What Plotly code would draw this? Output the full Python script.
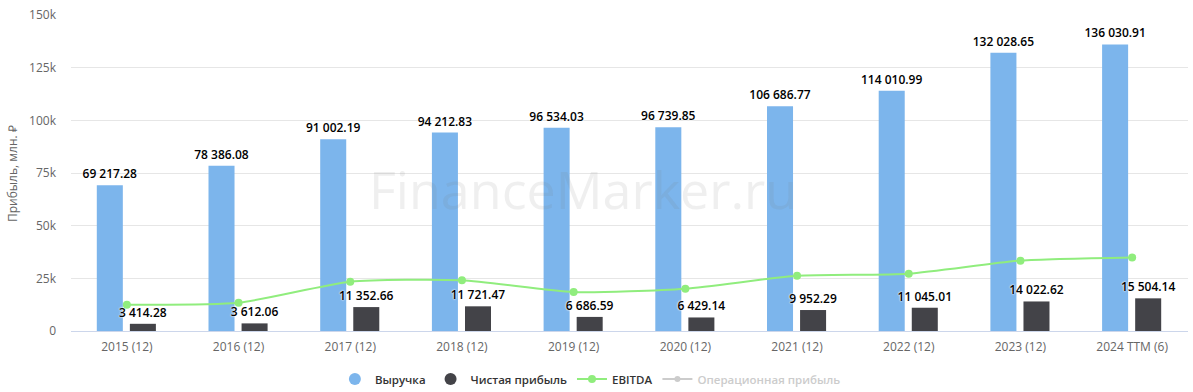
import plotly.graph_objects as go

categories = ["2015 (12)", "2016 (12)", "2017 (12)", "2018 (12)", "2019 (12)",
              "2020 (12)", "2021 (12)", "2022 (12)", "2023 (12)", "2024 TTM (6)"]
revenue = [69217.28, 78386.08, 91002.19, 94212.83, 96534.03,
           96739.85, 106686.77, 114010.99, 132028.65, 136030.91]
net_profit = [3414.28, 3612.06, 11352.66, 11721.47, 6686.59,
              6429.14, 9952.29, 11045.01, 14022.62, 15504.14]
ebitda = [12500, 13400, 23400, 24100, 18500, 20100, 26200, 27200, 33400, 34900]
y_tickvals = [0, 25000, 50000, 75000, 100000, 125000, 150000]
y_ticktext = ["0", "25k", "50k", "75k", "100k", "125k", "150k"]

FONT = "Open Sans"
BLUE = "#7cb5ec"
DARK = "#434348"
GREEN = "#90ed7d"
HIDDEN = "#cccccc"

label_font = dict(family=FONT, size=12, color="#000000", weight=600,
                  shadow="0px 0px 2px #ffffff, 0px 0px 2px #ffffff")

fig = go.Figure()

fig.add_trace(go.Bar(
    x=categories, y=revenue, name="Выручка",
    marker=dict(color=BLUE, line=dict(width=0)), width=0.233, offset=-0.269,
    texttemplate="%{y:,.2f}", textposition="outside", textfont=label_font,
    constraintext="none", cliponaxis=False, showlegend=False, hoverinfo="skip"))

fig.add_trace(go.Bar(
    x=categories, y=net_profit, name="Чистая прибыль",
    marker=dict(color=DARK, line=dict(width=0)), width=0.233, offset=0.027,
    texttemplate="%{y:,.2f}", textposition="outside", textfont=label_font,
    constraintext="none", cliponaxis=False, showlegend=False, hoverinfo="skip"))

fig.add_trace(go.Scatter(
    x=categories, y=ebitda, name="EBITDA",
    mode="lines+markers", line=dict(color=GREEN, width=2, shape="spline", smoothing=0.6),
    marker=dict(color=GREEN, size=8), legendrank=3, hoverinfo="skip", cliponaxis=False))

# legend entries
fig.add_trace(go.Scatter(
    x=[None], y=[None], name="Выручка", mode="markers",
    marker=dict(symbol="circle", size=12, color=BLUE), legendrank=1))
fig.add_trace(go.Scatter(
    x=[None], y=[None], name="Чистая прибыль", mode="markers",
    marker=dict(symbol="circle", size=12, color=DARK), legendrank=2))
fig.add_trace(go.Scatter(
    x=[None], y=[None],
    name="<span style='color:#cccccc'>Операционная прибыль</span>",
    mode="lines+markers", line=dict(color=HIDDEN, width=2),
    marker=dict(color=HIDDEN, size=6), legendrank=4))

fig.update_layout(
    width=1193, height=392,
    margin=dict(l=71, r=5, t=15, b=61, autoexpand=False),
    paper_bgcolor="#ffffff", plot_bgcolor="#ffffff",
    separators=". ",
    barmode="overlay",
    showlegend=True,
    hovermode=False,
    font=dict(family=FONT, size=12, color="#666666"),
    xaxis=dict(type="category",
               categoryorder="array", categoryarray=categories,
               range=[-0.5, len(categories) - 0.5],
               showgrid=False, showline=True, linecolor="#ccd6eb", linewidth=1,
               ticks="", tickfont=dict(family=FONT, size=12, color="#666666"),
               ticklabelstandoff=5,
               zeroline=False, automargin=False, fixedrange=True),
    yaxis=dict(range=[0, 150000],
               tickvals=y_tickvals, ticktext=y_ticktext,
               showgrid=True, gridcolor="#e6e6e6", gridwidth=1,
               zeroline=False, showline=False, ticks="",
               tickfont=dict(family=FONT, size=12, color="#666666"),
               ticklabelstandoff=14, automargin=False, fixedrange=True),
    annotations=[
        dict(text="Прибыль, млн. ₽", textangle=-90,
             xref="paper", yref="paper", x=-59 / 1117, y=0.5,
             xanchor="center", yanchor="middle", showarrow=False,
             font=dict(family=FONT, size=12, color="#666666")),
        dict(text="FinanceMarker.ru", xref="paper", yref="paper",
             x=0.4584, y=0.45, xanchor="center", yanchor="middle", showarrow=False,
             font=dict(family=FONT, size=52, color="rgba(120,120,120,0.12)")),
    ],
    legend=dict(orientation="h", x=0.465, xanchor="center", y=-0.152, yanchor="middle",
                font=dict(family=FONT, size=11.5, color="#333333", weight=600),
                itemwidth=30,
                itemclick=False, itemdoubleclick=False),
)

fig.write_html("out.html", post_script="document.body.style.margin='0px';",
               config={"displayModeBar": False})
